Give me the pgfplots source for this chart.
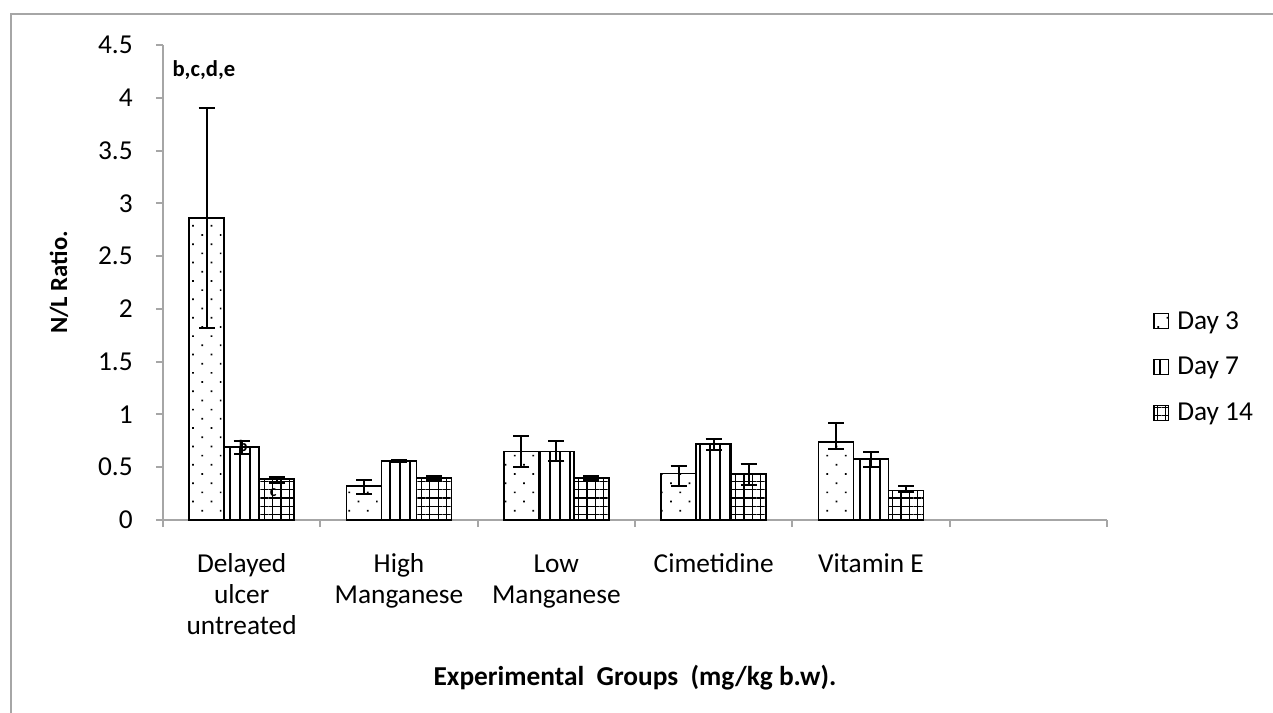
\documentclass[border=0pt]{standalone}
\usepackage{fontspec}
\setmainfont{Carlito}
\usepackage{pgfplots}
\pgfplotsset{compat=1.18}
\usetikzlibrary{patterns.meta}
\newcommand{\fz}{\fontsize{20.5pt}{23.25pt}\selectfont}
\pgfplotsset{myerr/.style={error bars/.cd, y dir=both, y explicit,
  error bar style={black, line width=1.5pt},
  error mark options={black, line width=1.5pt, mark size=6pt, rotate=90}}}
\begin{document}
\begin{tikzpicture}
\path[use as bounding box] (-122.25pt,-144.75pt) rectangle (832.5pt,390pt);
\draw[gray!70, line width=1.5pt] (-114pt,-144.75pt) -- (-114pt,379.5pt) -- (832.5pt,379.5pt);
\begin{axis}[
  at={(0pt,0pt)}, anchor=south west,
  scale only axis, width=708pt, height=356.25pt,
  ybar=0pt, bar width=26.25pt,
  xmin=-0.5, xmax=5.5, ymin=0, ymax=4.5,
  ytick={0,0.5,...,4.5},
  yticklabels={0,0.5,1,1.5,2,2.5,3,3.5,4,4.5},
  xtick={-0.5,0.5,...,5.5},
  x tick label as interval,
  xticklabels={{\strut Delayed\\ulcer\\untreated},{\strut High\\Manganese},{\strut Low\\Manganese},{\strut Cimetidine},{\strut Vitamin E},{}},
  axis x line*=bottom, axis y line*=left,
  axis line style={gray!70, line width=1.5pt},
  tick style={gray!70, line width=1.5pt},
  tick align=outside, major tick length=5.25pt,
  x tick label style={font=\fz, align=center, anchor=north, yshift=-14pt},
  y tick label style={font=\fz, xshift=-14pt},
  /pgf/number format/assume math mode=true,
  xlabel={\textbf{Experimental\ \ Groups\ \ (mg/kg b.w).}},
  xlabel style={font=\fz, at={(rel axis cs:0.5,0)}, anchor=center, yshift=-118pt},
  ylabel={\textbf{N/L Ratio.}},
  ylabel style={font=\fontsize{18.5pt}{20pt}\selectfont, at={(rel axis cs:0,0.5)}, anchor=center, yshift=78pt},
  legend style={at={(1.0487,0.322)}, anchor=west, draw=none, fill=none, font=\fz, row sep=19.75pt, inner sep=0pt,
    nodes={inner xsep=6pt, inner ysep=0pt}},
  legend cell align=left,
  legend image code/.code={\draw[#1, line width=1pt] (0pt,-5.5pt) rectangle (11pt,5.5pt);},
]
\addplot[draw=black, line width=1.3pt, pattern={Dots[distance=9.75pt, angle=45, radius=0.9pt]}, myerr]
  table[x=x, y=y, y error plus=ep, y error minus=em] {
x y ep em
0 2.86 1.04 1.04
1 0.32 0.06 0.07
2 0.65 0.15 0.15
3 0.44 0.07 0.12
4 0.74 0.18 0.07
};
\addplot[draw=black, line width=1.3pt, pattern={Lines[angle=90, distance=7.5pt, line width=1.1pt]}, myerr]
  table[x=x, y=y, y error plus=ep, y error minus=em] {
x y ep em
0 0.69 0.06 0.06
1 0.56 0.01 0.01
2 0.65 0.10 0.09
3 0.72 0.05 0.06
4 0.58 0.06 0.08
};
\addplot[draw=black, line width=1.3pt, pattern={Hatch[angle=0, distance=6.2pt, line width=0.9pt]}, myerr]
  table[x=x, y=y, y error plus=ep, y error minus=em] {
x y ep em
0 0.385 0.02 0.03
1 0.40 0.02 0.02
2 0.40 0.02 0.02
3 0.435 0.10 0.10
4 0.28 0.04 0.01
};
\legend{Day 3, Day 7, Day 14}
\node[font=\fontsize{17pt}{20pt}\selectfont\bfseries] at (axis cs:-0.24,4.26) {b,c,d,e};
\node[font=\fontsize{12pt}{14pt}\selectfont\bfseries] at (axis cs:0.01,0.70) {b};
\node[font=\fontsize{12pt}{14pt}\selectfont\bfseries] at (axis cs:0.2,0.26) {c};
\end{axis}
\end{tikzpicture}
\end{document}
